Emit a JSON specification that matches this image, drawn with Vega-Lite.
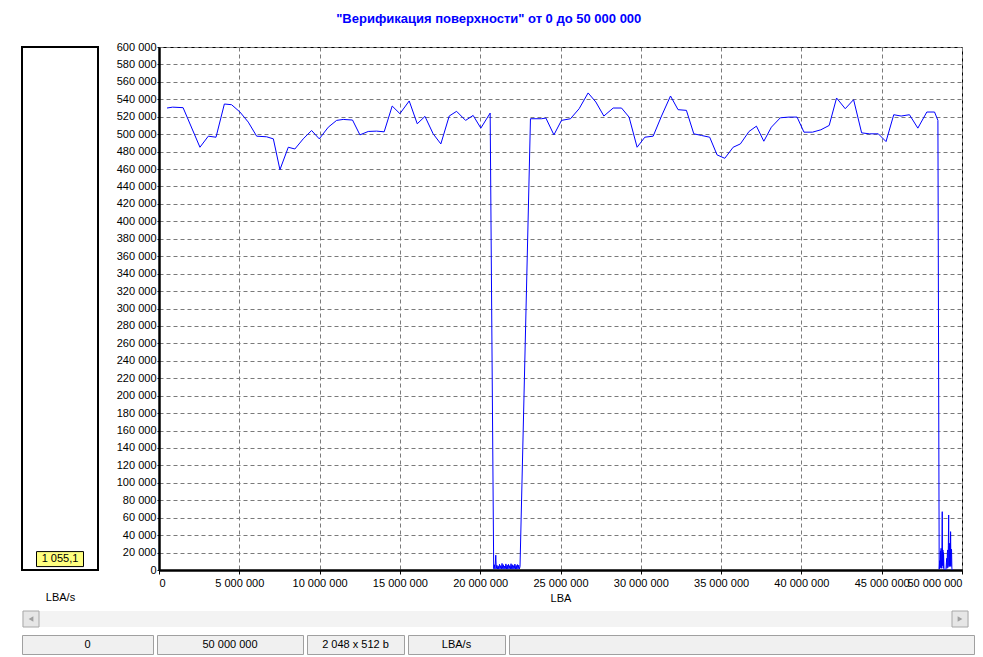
{
  "$schema": "https://vega.github.io/schema/vega-lite/v6.json",
  "background": "white",
  "padding": {"left": 5, "top": 12, "right": 0, "bottom": 0},
  "title": {
    "text": "\"Верификация поверхности\" от 0 до 50 000 000",
    "color": "#0000ff",
    "font": "Liberation Sans",
    "fontSize": 13,
    "fontWeight": "bold",
    "anchor": "middle",
    "offset": 15,
    "dx": -1
  },
  "config": {
    "font": "Liberation Sans",
    "locale": {"number": {"decimal": ",", "thousands": " ", "grouping": [3], "currency": ["", ""]}},
    "axis": {
      "labelFont": "Liberation Sans",
      "labelFontSize": 11,
      "labelColor": "black",
      "titleFont": "Liberation Sans",
      "titleFontSize": 11,
      "titleFontWeight": "normal",
      "titleColor": "black"
    },
    "view": {"stroke": "black"}
  },
  "datasets": {
    "speed": [
      {"lba": 500000, "v": 530000},
      {"lba": 850000, "v": 531000},
      {"lba": 1500000, "v": 530400},
      {"lba": 2550000, "v": 485000},
      {"lba": 3070000, "v": 497700},
      {"lba": 3550000, "v": 496500},
      {"lba": 4070000, "v": 534600},
      {"lba": 4520000, "v": 533800},
      {"lba": 5040000, "v": 525400},
      {"lba": 5560000, "v": 513800},
      {"lba": 6080000, "v": 497700},
      {"lba": 6700000, "v": 497000},
      {"lba": 7120000, "v": 494600},
      {"lba": 7530000, "v": 459200},
      {"lba": 8050000, "v": 485000},
      {"lba": 8460000, "v": 483000},
      {"lba": 8980000, "v": 494600},
      {"lba": 9500000, "v": 504200},
      {"lba": 9980000, "v": 494600},
      {"lba": 10540000, "v": 508000},
      {"lba": 11060000, "v": 515800},
      {"lba": 11470000, "v": 516900},
      {"lba": 12050000, "v": 516200},
      {"lba": 12510000, "v": 499200},
      {"lba": 13030000, "v": 503100},
      {"lba": 13550000, "v": 503500},
      {"lba": 14020000, "v": 502700},
      {"lba": 14520000, "v": 532300},
      {"lba": 15000000, "v": 523500},
      {"lba": 15580000, "v": 538100},
      {"lba": 16080000, "v": 511900},
      {"lba": 16560000, "v": 520400},
      {"lba": 17070000, "v": 500400},
      {"lba": 17550000, "v": 488800},
      {"lba": 18070000, "v": 520800},
      {"lba": 18530000, "v": 526200},
      {"lba": 19090000, "v": 515800},
      {"lba": 19560000, "v": 521500},
      {"lba": 20040000, "v": 506900},
      {"lba": 20620000, "v": 524200},
      {"lba": 20840000, "v": 1500},
      {"lba": 20880000, "v": 6000},
      {"lba": 20920000, "v": 1200},
      {"lba": 20970000, "v": 17000},
      {"lba": 21000000, "v": 1500},
      {"lba": 21040000, "v": 5500},
      {"lba": 21080000, "v": 1200},
      {"lba": 21120000, "v": 4500},
      {"lba": 21160000, "v": 1000},
      {"lba": 21200000, "v": 6500},
      {"lba": 21240000, "v": 1500},
      {"lba": 21280000, "v": 5000},
      {"lba": 21320000, "v": 1200},
      {"lba": 21360000, "v": 7500},
      {"lba": 21400000, "v": 1500},
      {"lba": 21440000, "v": 6000},
      {"lba": 21480000, "v": 1000},
      {"lba": 21520000, "v": 4500},
      {"lba": 21560000, "v": 1400},
      {"lba": 21600000, "v": 7000},
      {"lba": 21640000, "v": 1200},
      {"lba": 21680000, "v": 5500},
      {"lba": 21720000, "v": 1000},
      {"lba": 21760000, "v": 6500},
      {"lba": 21800000, "v": 1500},
      {"lba": 21840000, "v": 5000},
      {"lba": 21880000, "v": 1200},
      {"lba": 21920000, "v": 7200},
      {"lba": 21960000, "v": 1300},
      {"lba": 22000000, "v": 6000},
      {"lba": 22040000, "v": 1000},
      {"lba": 22080000, "v": 5000},
      {"lba": 22120000, "v": 1500},
      {"lba": 22160000, "v": 6800},
      {"lba": 22200000, "v": 1200},
      {"lba": 22240000, "v": 5200},
      {"lba": 22280000, "v": 1000},
      {"lba": 22320000, "v": 6200},
      {"lba": 22360000, "v": 1400},
      {"lba": 22400000, "v": 5500},
      {"lba": 22440000, "v": 1200},
      {"lba": 22480000, "v": 4000},
      {"lba": 23130000, "v": 517700},
      {"lba": 23820000, "v": 517700},
      {"lba": 24090000, "v": 518500},
      {"lba": 24590000, "v": 499200},
      {"lba": 25060000, "v": 515800},
      {"lba": 25620000, "v": 517700},
      {"lba": 26160000, "v": 529200},
      {"lba": 26720000, "v": 547300},
      {"lba": 27200000, "v": 536900},
      {"lba": 27700000, "v": 520800},
      {"lba": 28280000, "v": 530000},
      {"lba": 28800000, "v": 530000},
      {"lba": 29270000, "v": 519600},
      {"lba": 29770000, "v": 485000},
      {"lba": 30250000, "v": 496500},
      {"lba": 30770000, "v": 497700},
      {"lba": 31290000, "v": 520800},
      {"lba": 31850000, "v": 543800},
      {"lba": 32320000, "v": 528100},
      {"lba": 32840000, "v": 527300},
      {"lba": 33300000, "v": 500400},
      {"lba": 33780000, "v": 498500},
      {"lba": 34290000, "v": 496500},
      {"lba": 34750000, "v": 476200},
      {"lba": 35230000, "v": 472300},
      {"lba": 35750000, "v": 485000},
      {"lba": 36200000, "v": 488800},
      {"lba": 36740000, "v": 503100},
      {"lba": 37200000, "v": 509200},
      {"lba": 37660000, "v": 491900},
      {"lba": 38130000, "v": 508000},
      {"lba": 38690000, "v": 518800},
      {"lba": 39230000, "v": 519600},
      {"lba": 39730000, "v": 519600},
      {"lba": 40160000, "v": 502300},
      {"lba": 40690000, "v": 502300},
      {"lba": 41210000, "v": 505000},
      {"lba": 41730000, "v": 510000},
      {"lba": 42190000, "v": 541500},
      {"lba": 42730000, "v": 529200},
      {"lba": 43250000, "v": 539600},
      {"lba": 43750000, "v": 501500},
      {"lba": 44230000, "v": 500400},
      {"lba": 44790000, "v": 500400},
      {"lba": 45270000, "v": 491500},
      {"lba": 45750000, "v": 522300},
      {"lba": 46210000, "v": 520800},
      {"lba": 46730000, "v": 522300},
      {"lba": 47250000, "v": 506900},
      {"lba": 47810000, "v": 525400},
      {"lba": 48290000, "v": 525400},
      {"lba": 48500000, "v": 515800},
      {"lba": 48580000, "v": 1000},
      {"lba": 48610000, "v": 10700},
      {"lba": 48630000, "v": 2000},
      {"lba": 48660000, "v": 22000},
      {"lba": 48680000, "v": 3000},
      {"lba": 48700000, "v": 24900},
      {"lba": 48720000, "v": 2000},
      {"lba": 48750000, "v": 25000},
      {"lba": 48770000, "v": 66900},
      {"lba": 48790000, "v": 5000},
      {"lba": 48810000, "v": 23000},
      {"lba": 48830000, "v": 2000},
      {"lba": 48850000, "v": 20000},
      {"lba": 48880000, "v": 500},
      {"lba": 48920000, "v": 0},
      {"lba": 48970000, "v": 0},
      {"lba": 49000000, "v": 500},
      {"lba": 49030000, "v": 9000},
      {"lba": 49050000, "v": 13400},
      {"lba": 49070000, "v": 2000},
      {"lba": 49090000, "v": 20000},
      {"lba": 49110000, "v": 23000},
      {"lba": 49130000, "v": 3000},
      {"lba": 49150000, "v": 28000},
      {"lba": 49170000, "v": 63100},
      {"lba": 49190000, "v": 5000},
      {"lba": 49210000, "v": 30600},
      {"lba": 49230000, "v": 4000},
      {"lba": 49250000, "v": 30000},
      {"lba": 49270000, "v": 5000},
      {"lba": 49290000, "v": 44000},
      {"lba": 49310000, "v": 4000},
      {"lba": 49330000, "v": 24000},
      {"lba": 49350000, "v": 23000},
      {"lba": 49370000, "v": 2000},
      {"lba": 49390000, "v": 0}
    ]
  },
  "spacing": 5,
  "vconcat": [
    {
      "spacing": 16,
      "hconcat": [
        {
          "width": 76,
          "height": 523,
          "data": {"values": [{"unit": "LBA/s", "rate": 1055.1}]},
          "view": {"stroke": "black", "strokeWidth": 2},
          "encoding": {
            "x": {
              "field": "unit",
              "type": "nominal",
              "scale": {"paddingInner": 0, "paddingOuter": 0},
              "axis": {"labels": false, "ticks": false, "domain": false, "title": "LBA/s", "titlePadding": 21}
            },
            "y": {
              "field": "rate",
              "type": "quantitative",
              "scale": {"domain": [0, 600000], "nice": false},
              "axis": {"labels": false, "ticks": false, "grid": false, "title": null, "domain": true, "domainColor": "white", "offset": 16}
            }
          },
          "layer": [
            {
              "mark": {"type": "tick", "orient": "horizontal", "size": 47, "thickness": 15, "color": "#ffff80", "stroke": "black", "strokeWidth": 1, "opacity": 1, "yOffset": -10}
            },
            {
              "mark": {"type": "text", "fontSize": 11, "color": "black", "yOffset": -10},
              "encoding": {"text": {"field": "rate", "type": "quantitative", "format": ",.1f"}}
            }
          ]
        },
        {
          "width": 803,
          "height": 523,
          "data": {"name": "speed"},
          "view": {"stroke": "black", "strokeWidth": 1},
          "mark": {"type": "line", "color": "#0000ff", "strokeWidth": 1, "clip": true},
          "encoding": {
            "x": {
              "field": "lba",
              "type": "quantitative",
              "scale": {"domain": [0, 50000000], "nice": false},
              "axis": {
                "title": "LBA",
                "titlePadding": 4,
                "tickCount": 10,
                "format": ",d",
                "labelFlush": true,
                "labelOverlap": false,
                "labelPadding": 3,
                "tickSize": 4,
                "tickColor": "black",
                "domainColor": "black",
                "domainWidth": 2.5,
                "grid": true,
                "gridColor": "#7a7a7a",
                "gridDash": [4, 3],
                "gridWidth": 1
              }
            },
            "y": {
              "field": "v",
              "type": "quantitative",
              "scale": {"domain": [0, 600000], "nice": false},
              "axis": {
                "title": null,
                "tickCount": 30,
                "format": ",d",
                "labelOverlap": false,
                "labelPadding": 1,
                "tickSize": 2,
                "tickColor": "black",
                "domainColor": "black",
                "domainWidth": 2.5,
                "grid": true,
                "gridColor": "#7a7a7a",
                "gridDash": [4, 3],
                "gridWidth": 1
              }
            }
          }
        }
      ]
    },
    {
      "width": 947,
      "height": 16,
      "data": {"values": [{"side": 0}, {"side": 1}]},
      "view": {"fill": "#f3f3f3", "stroke": null},
      "encoding": {
        "x": {"field": "side", "type": "quantitative", "scale": {"domain": [0, 1], "nice": false, "zero": false}, "axis": null}
      },
      "layer": [
        {
          "transform": [{"filter": "datum.side == 0"}],
          "mark": {"type": "point", "shape": "square", "size": 256, "filled": true, "color": "#e6e6e6", "stroke": "#a8a8a8", "strokeWidth": 1, "opacity": 1, "xOffset": 9}
        },
        {
          "transform": [{"filter": "datum.side == 0"}],
          "mark": {"type": "point", "shape": "triangle-left", "size": 30, "filled": true, "color": "#a0a0a0", "opacity": 1, "xOffset": 9}
        },
        {
          "transform": [{"filter": "datum.side == 1"}],
          "mark": {"type": "point", "shape": "square", "size": 256, "filled": true, "color": "#e6e6e6", "stroke": "#a8a8a8", "strokeWidth": 1, "opacity": 1, "xOffset": -9}
        },
        {
          "transform": [{"filter": "datum.side == 1"}],
          "mark": {"type": "point", "shape": "triangle-right", "size": 30, "filled": true, "color": "#a0a0a0", "opacity": 1, "xOffset": -9}
        }
      ]
    },
    {
      "spacing": 2,
      "hconcat": [
        {"width": 131, "height": 19, "data": {"values": [{"t": "0"}]}, "view": {"fill": "#f0f0f0", "stroke": "#a0a0a0"}, "mark": {"type": "text", "fontSize": 11, "color": "black"}, "encoding": {"text": {"field": "t"}}},
        {"width": 146, "height": 19, "data": {"values": [{"t": "50 000 000"}]}, "view": {"fill": "#f0f0f0", "stroke": "#a0a0a0"}, "mark": {"type": "text", "fontSize": 11, "color": "black"}, "encoding": {"text": {"field": "t"}}},
        {"width": 97, "height": 19, "data": {"values": [{"t": "2 048 x 512 b"}]}, "view": {"fill": "#f0f0f0", "stroke": "#a0a0a0"}, "mark": {"type": "text", "fontSize": 11, "color": "black"}, "encoding": {"text": {"field": "t"}}},
        {"width": 97, "height": 19, "data": {"values": [{"t": "LBA/s"}]}, "view": {"fill": "#f0f0f0", "stroke": "#a0a0a0"}, "mark": {"type": "text", "fontSize": 11, "color": "black"}, "encoding": {"text": {"field": "t"}}},
        {"width": 465, "height": 19, "data": {"values": [{"t": ""}]}, "view": {"fill": "#f0f0f0", "stroke": "#a0a0a0"}, "mark": {"type": "text", "fontSize": 11, "color": "black"}, "encoding": {"text": {"field": "t"}}}
      ]
    }
  ]
}
